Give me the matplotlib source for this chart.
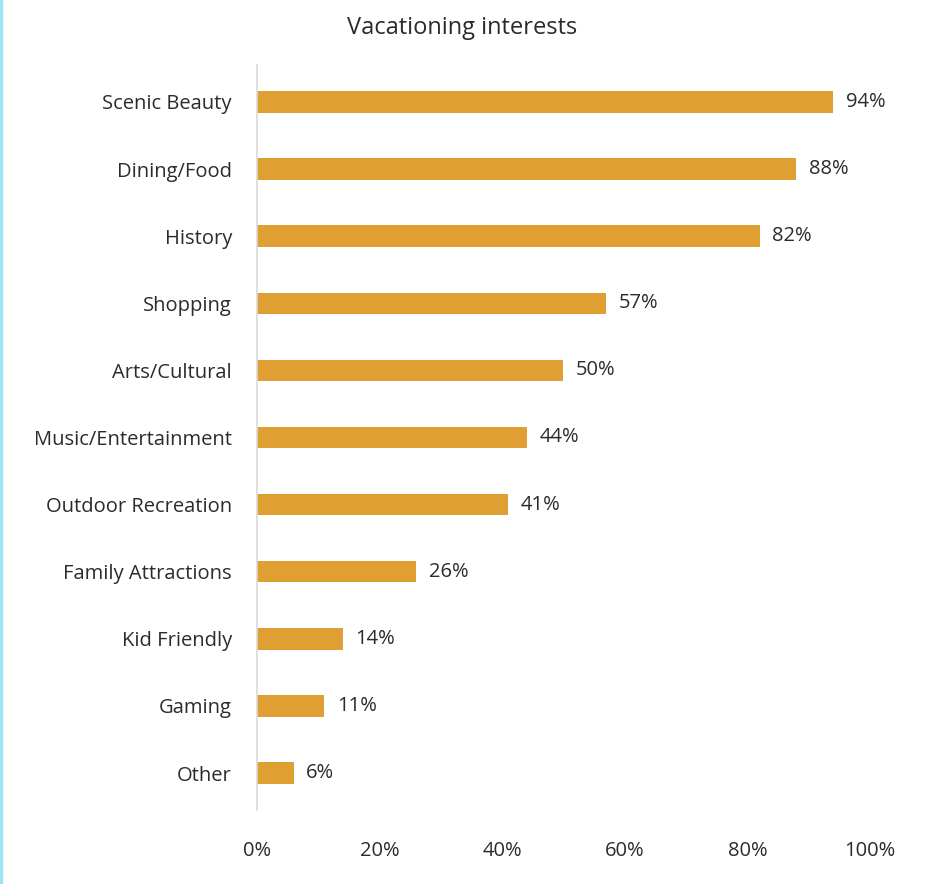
import matplotlib.pyplot as plt
from matplotlib.lines import Line2D

plt.rcParams['font.family'] = ['Open Sans', 'DejaVu Sans']

# Data
categories = ["Scenic Beauty", "Dining/Food", "History", "Shopping", "Arts/Cultural",
              "Music/Entertainment", "Outdoor Recreation", "Family Attractions",
              "Kid Friendly", "Gaming", "Other"]
values = [94, 88, 82, 57, 50, 44, 41, 26, 14, 11, 6]
x_ticks = [0, 20, 40, 60, 80, 100]

bar_color = "#DF9F32"
text_color = "#2b2b2b"
fs = 14.5

fig = plt.figure(figsize=(9.43, 8.84), dpi=100)
ax = fig.add_axes([0.2725, 0.0837, 0.65, 0.8428])

pos = list(range(len(categories)))
ax.barh(pos, values, height=0.32, color=bar_color)
ax.set_ylim(len(categories) - 0.45, -0.55)
ax.set_xlim(0, 100)

ax.set_yticks(pos)
ax.set_yticklabels(categories, fontsize=fs, color=text_color)
ax.set_xticks(x_ticks)
ax.set_xticklabels([f"{t}%" for t in x_ticks], fontsize=fs, color=text_color)
ax.tick_params(axis='both', length=0)
ax.tick_params(axis='y', pad=18)
ax.tick_params(axis='x', pad=22)

for s in ['top', 'right', 'bottom']:
    ax.spines[s].set_visible(False)
ax.spines['left'].set_color('#d9d9d9')
ax.spines['left'].set_linewidth(1.2)

# Value labels
for p, v in zip(pos, values):
    ax.annotate(f"{v}%", (v, p), xytext=(9, 0), textcoords='offset points',
                va='center', ha='left', fontsize=fs, color=text_color)

fig.text(0.49, 0.968, "Vacationing interests", ha='center', va='center',
         fontsize=17, color=text_color)

# thin light-blue frame edge on the left
fig.add_artist(Line2D([0.001, 0.001], [0, 1], color='#9fe3f5', lw=2.5,
                      transform=fig.transFigure))

fig.savefig("out.png", dpi=100)
